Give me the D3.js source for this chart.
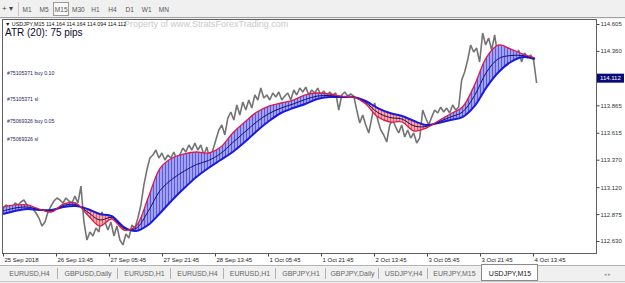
<!DOCTYPE html>
<html>
<head>
<meta charset="utf-8">
<script src="https://cdn.jsdelivr.net/npm/d3@7"></script>
<style>
body { margin: 0; background: #fff; overflow: hidden; }
svg { display: block; font-family: "Liberation Sans", Arial, sans-serif; }
</style>
</head>
<body>
<svg id="chart" width="625" height="283"></svg>
<script>
// USDJPY M15 closes, one sample every priceStep bars
var priceStep = 3.62;
var prices = [
    112.930, 112.958, 112.939, 112.921, 112.976, 112.958, 112.985, 113.003, 112.958, 112.939,
    112.921, 112.885, 112.839, 112.766, 112.803, 112.894, 112.948, 112.994, 113.021, 113.003,
    112.976, 113.021, 112.994, 112.976, 113.039, 112.976,
    113.130, 112.803, 112.639, 112.712, 112.676, 112.748, 112.712, 112.894, 112.803, 112.730,
    112.803, 112.676, 112.766, 112.639, 112.594, 112.694, 112.657, 112.776, 112.748, 112.839,
    112.958, 113.140, 113.276, 113.385, 113.413, 113.458, 113.385, 113.431, 113.367, 113.413,
    113.385, 113.440, 113.367, 113.413, 113.476, 113.440, 113.504, 113.458, 113.522, 113.458,
    113.504, 113.413, 113.485, 113.367, 113.458, 113.549, 113.640, 113.686, 113.595, 113.749,
    113.804, 113.731, 113.868, 113.777, 113.895, 113.822, 113.913, 113.840, 113.959, 113.913,
    114.022, 113.931, 113.959, 113.913, 113.977, 113.940, 113.986, 113.913, 113.949, 113.977,
    113.913, 114.004, 113.959, 114.022, 113.986, 114.031, 113.959, 114.004, 113.977, 114.022,
    113.959, 113.995, 113.949, 113.986, 113.959, 113.977, 113.822, 113.959, 113.986, 113.949,
    113.968, 113.949, 113.822, 113.704, 113.777, 113.686, 113.613, 113.749, 113.886, 113.731,
    113.640, 113.595, 113.531, 113.686, 113.731, 113.667, 113.613, 113.686, 113.576, 113.640,
    113.567, 113.613, 113.522, 113.567, 113.822, 113.749, 113.686, 113.758, 113.822, 113.795,
    113.849, 113.804, 113.840, 113.795, 113.868, 113.822, 113.849, 114.095, 114.168, 114.277,
    114.414, 114.350, 114.386, 114.259, 114.523, 114.414, 114.477, 114.368, 114.505, 114.323,
    114.368, 114.295, 114.386, 114.277, 114.350, 114.304, 114.368, 114.259, 114.341, 114.295,
    114.323, 114.277, 114.068
];

// moving average ribbon, one sample every maStep bars
var maStep = 14.6;
var fastMA = [
    112.939, 112.958, 112.958, 112.921, 112.894, 112.967, 112.976, 112.867, 112.766, 112.830,
    112.730, 112.766, 113.021, 113.294, 113.385, 113.422, 113.440, 113.431, 113.485, 113.613,
    113.713, 113.804, 113.858, 113.886, 113.913, 113.959, 113.977, 113.968, 113.949, 113.940,
    113.877, 113.758, 113.713, 113.713, 113.631, 113.658, 113.722, 113.786, 113.849, 114.050,
    114.304, 114.414, 114.377, 114.332, 114.295
];
var midMA = [
    112.903, 112.930, 112.939, 112.916, 112.903, 112.953, 112.962, 112.894, 112.821, 112.844,
    112.744, 112.744, 112.898, 113.090, 113.194, 113.267, 113.326, 113.363, 113.426, 113.526,
    113.622, 113.717, 113.790, 113.840, 113.877, 113.918, 113.949, 113.954, 113.945, 113.940,
    113.890, 113.799, 113.754, 113.740, 113.677, 113.672, 113.713, 113.758, 113.804, 113.954,
    114.168, 114.291, 114.318, 114.318, 114.291
];
var slowMA = [
    112.876, 112.903, 112.921, 112.912, 112.912, 112.939, 112.948, 112.921, 112.876, 112.857,
    112.757, 112.721, 112.776, 112.885, 113.003, 113.112, 113.212, 113.294, 113.367, 113.440,
    113.531, 113.631, 113.722, 113.795, 113.840, 113.877, 113.922, 113.940, 113.940, 113.940,
    113.904, 113.840, 113.795, 113.767, 113.722, 113.686, 113.704, 113.731, 113.758, 113.858,
    114.031, 114.168, 114.259, 114.304, 114.286
];

var priceTicks = [114.605, 114.360, 113.865, 113.615, 113.370, 113.120, 112.875, 112.630];
var lastPrice = 114.112;
var timeTickBars = [0, 64, 128, 192, 256, 320, 384, 448, 512, 576, 640];
var timeLabels = ["25 Sep 2018", "26 Sep 13:45", "27 Sep 05:45", "27 Sep 21:45", "28 Sep 13:45",
    "1 Oct 05:45", "1 Oct 21:45", "2 Oct 13:45", "3 Oct 05:45", "3 Oct 21:45", "4 Oct 13:45"];
var timeframes = ["M1", "M5", "M15", "M30", "H1", "H4", "D1", "W1", "MN"];
var tabNames = ["EURUSD,H4", "GBPUSD,Daily", "EURUSD,H1", "EURUSD,H4", "EURUSD,H1",
    "GBPJPY,H1", "GBPJPY,Daily", "USDJPY,H4", "EURJPY,M15", "USDJPY,M15"];
var orderLabels = ["#75105371 buy 0.10", "#75105371 sl", "#75069326 buy 0.05", "#75069326 sl"];
var orderLevels = [114.140, 113.904, 113.704, 113.540];

var plotL = 2, plotR = 596, plotT = 19, plotB = 253;

var svg = d3.select("#chart");
var defs = svg.append("defs");

var x = d3.scaleLinear().domain([0, 640]).range([3, 533]);
var y = d3.scaleLinear().domain([112.630, 114.605]).range([241, 24]);

// toolbar
svg.append("rect").attr("x", 0).attr("y", 0).attr("width", 625).attr("height", plotT)
    .attr("fill", "#f0f0f0");
svg.append("line").attr("x1", 0).attr("x2", 625).attr("y1", 17.5).attr("y2", 17.5)
    .attr("stroke", "#a0a0a0");
svg.append("text").attr("x", 2).attr("y", 11).attr("font-size", 8).attr("fill", "#444")
    .text("+ \u25BE");
svg.append("line").attr("x1", 18.5).attr("x2", 18.5).attr("y1", 2).attr("y2", 16)
    .attr("stroke", "#c8c8c8");
svg.append("rect").attr("x", 53.5).attr("y", 2.5).attr("width", 15).attr("height", 13)
    .attr("fill", "#fafafa").attr("stroke", "#9a9a9a");
svg.selectAll(".tf").data(timeframes).enter().append("text")
    .attr("x", (d, i) => 27 + i * 17.1)
    .attr("y", 12)
    .attr("text-anchor", "middle")
    .attr("font-size", 6.5)
    .attr("fill", "#555")
    .text(d => d);

// chart frame
svg.append("rect").attr("x", plotL + 0.5).attr("y", plotT + 0.5)
    .attr("width", plotR - plotL).attr("height", plotB - plotT)
    .attr("fill", "#fff").attr("stroke", "#606060");

defs.append("clipPath").attr("id", "plotClip").append("rect")
    .attr("x", plotL + 1).attr("y", plotT + 1)
    .attr("width", plotR - plotL - 1).attr("height", plotB - plotT - 1);

// watermark and labels
svg.append("text").attr("x", 124).attr("y", 27).attr("font-size", 9)
    .attr("fill", "#c9c9c9").text("Property of www.StratsForexTrading.com");
svg.append("text").attr("x", 5).attr("y", 26).attr("font-size", 5.4).attr("fill", "#111")
    .text("\u25BC USDJPY,M15  114.164 114.164 114.094 114.112");
svg.append("text").attr("x", 5).attr("y", 36).attr("font-size", 10).attr("fill", "#0a0a30")
    .text("ATR (20): 75 pips");
svg.selectAll(".ord").data(orderLabels).enter().append("text")
    .attr("x", 7)
    .attr("y", (d, i) => y(orderLevels[i]))
    .attr("font-size", 5.2)
    .attr("fill", "#1c1c5c")
    .text(d => d);

var plot = svg.append("g").attr("clip-path", "url(#plotClip)");

// price
var priceLine = d3.line()
    .x((d, i) => x(i * priceStep))
    .y(d => y(d));
plot.append("path").attr("d", priceLine(prices))
    .attr("fill", "none").attr("stroke", "#747474").attr("stroke-width", 1.6)
    .attr("stroke-linejoin", "bevel");

// ribbon fill: blue where fast is above slow, red where below
function hatch(id, bg, fg) {
    var p = defs.append("pattern").attr("id", id)
        .attr("patternUnits", "userSpaceOnUse").attr("width", 3).attr("height", 10);
    p.append("rect").attr("width", 3).attr("height", 10).attr("fill", bg);
    p.append("rect").attr("width", 1).attr("height", 10).attr("fill", fg);
}
hatch("hatchBlue", "#a2a2f4", "#5a5ad6");
hatch("hatchRed", "#f6a8a8", "#e06262");

var curve = d3.curveCatmullRom.alpha(0.5);
var maX = (d, i) => x(i * maStep);

var upArea = d3.area().x(maX).y0(0).y1(d => y(d)).curve(curve);
var downArea = d3.area().x(maX).y0(283).y1(d => y(d)).curve(curve);
defs.append("clipPath").attr("id", "clipUp").append("path").attr("d", upArea(slowMA));
defs.append("clipPath").attr("id", "clipDown").append("path").attr("d", downArea(slowMA));

var ribbon = d3.area().x(maX)
    .y0((d, i) => y(slowMA[i]))
    .y1(d => y(d))
    .curve(curve);

plot.append("g").attr("clip-path", "url(#clipUp)")
    .append("path").attr("d", ribbon(fastMA)).attr("fill", "url(#hatchBlue)");
plot.append("g").attr("clip-path", "url(#clipDown)")
    .append("path").attr("d", ribbon(fastMA)).attr("fill", "url(#hatchRed)");

var maLine = d3.line().x(maX).y(d => y(d)).curve(curve);
plot.append("path").attr("d", maLine(slowMA))
    .attr("fill", "none").attr("stroke", "#1a1ae0").attr("stroke-width", 2);
plot.append("path").attr("d", maLine(midMA))
    .attr("fill", "none").attr("stroke", "#10106e").attr("stroke-width", 1);
plot.append("path").attr("d", maLine(fastMA))
    .attr("fill", "none").attr("stroke", "#e0184c").attr("stroke-width", 1.3);

// right price axis
var yAxis = d3.axisRight(y).tickValues(priceTicks).tickSize(3).tickFormat(d3.format(".3f"));
var ya = svg.append("g").attr("transform", "translate(" + (plotR + 0.5) + ",0)").call(yAxis);
ya.select(".domain").remove();
ya.attr("font-family", null).attr("font-size", 6);
ya.selectAll("line").attr("stroke", "#444");
ya.selectAll("text").attr("x", 4).attr("fill", "#333");

svg.append("rect").attr("x", plotR + 1).attr("y", y(lastPrice) - 4.5)
    .attr("width", 27).attr("height", 9).attr("fill", "#0a0a78");
svg.append("text").attr("x", plotR + 4).attr("y", y(lastPrice) + 2.2)
    .attr("font-size", 6).attr("fill", "#fff").text(d3.format(".3f")(lastPrice));

// bottom time axis
var xAxis = d3.axisBottom(x).tickValues(timeTickBars).tickSize(3)
    .tickFormat((d, i) => timeLabels[i]);
var xa = svg.append("g").attr("transform", "translate(0," + (plotB + 0.5) + ")").call(xAxis);
xa.select(".domain").remove();
xa.attr("font-family", null).attr("font-size", 6);
xa.selectAll("line").attr("stroke", "#444");
xa.selectAll("text").attr("text-anchor", "start").attr("x", 1).attr("y", 4).attr("fill", "#222");

// symbol tabs
svg.append("rect").attr("x", 0).attr("y", 265).attr("width", 625).attr("height", 18)
    .attr("fill", "#f0f0f0");
svg.append("line").attr("x1", 0).attr("x2", 625).attr("y1", 265.5).attr("y2", 265.5)
    .attr("stroke", "#b4b4b4");
svg.append("line").attr("x1", 0).attr("x2", 625).attr("y1", 281.5).attr("y2", 281.5)
    .attr("stroke", "#c8c8c8");
var tabEdges = [0, 57, 117, 170, 223, 275, 325, 378, 427, 480, 538];
svg.append("rect").attr("x", 481.5).attr("y", 264.5).attr("width", 56).attr("height", 16)
    .attr("fill", "#fff").attr("stroke", "#8a8a8a");
svg.selectAll(".sep").data(tabEdges.slice(1, 9)).enter().append("line")
    .attr("x1", d => d + 0.5).attr("x2", d => d + 0.5)
    .attr("y1", 268).attr("y2", 279)
    .attr("stroke", "#b0b0b0");
svg.selectAll(".tab").data(tabNames).enter().append("text")
    .attr("x", (d, i) => (tabEdges[i] + tabEdges[i + 1]) / 2 + 1)
    .attr("y", 276)
    .attr("text-anchor", "middle")
    .attr("font-size", 7)
    .attr("fill", (d, i) => i == tabNames.length - 1 ? "#222" : "#666")
    .text(d => d);
svg.append("text").attr("x", 604).attr("y", 276).attr("font-size", 5).attr("fill", "#999")
    .text("\u25C2  \u25B8");
</script>
</body>
</html>
